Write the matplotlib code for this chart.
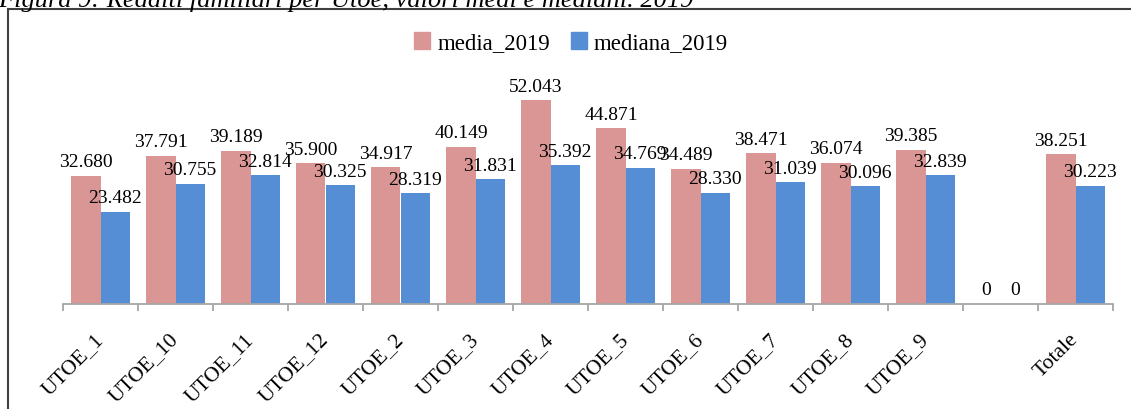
import matplotlib
matplotlib.use("Agg")
import matplotlib.pyplot as plt
from matplotlib.patches import Patch, Rectangle
import numpy as np

# redditi familiari per UTOE, 2019 (euro)
utoe = ["UTOE_1", "UTOE_10", "UTOE_11", "UTOE_12", "UTOE_2", "UTOE_3", "UTOE_4",
        "UTOE_5", "UTOE_6", "UTOE_7", "UTOE_8", "UTOE_9", "", "Totale"]
media_2019 = [32680, 37791, 39189, 35900, 34917, 40149, 52043,
              44871, 34489, 38471, 36074, 39385, 0, 38251]
mediana_2019 = [23482, 30755, 32814, 30325, 28319, 31831, 35392,
                34769, 28330, 31039, 30096, 32839, 0, 30223]

PINK = "#D99694"
BLUE = "#558ED5"
AXCOL = "#A6A6A6"

plt.rcParams["font.family"] = ["Liberation Serif", "DejaVu Serif"]


def fmt_it(v):
    # separatore delle migliaia all'italiana
    return "{:,.0f}".format(v).replace(",", ".")


fig = plt.figure(figsize=(11.31, 4.10), dpi=100)
ax = fig.add_axes([63 / 1131, 105 / 410, 1050 / 1131, 235 / 410])

x = np.arange(len(utoe))
w = 0.387
b1 = ax.bar(x - w / 2, media_2019, w, color=PINK, label="media_2019")
b2 = ax.bar(x + w / 2, mediana_2019, w, color=BLUE, label="mediana_2019")
for bars, vals in ((b1, media_2019), (b2, mediana_2019)):
    ax.bar_label(bars, labels=[fmt_it(v) for v in vals], padding=4, fontsize=14)

ax.set_xlim(-0.5, len(utoe) - 0.5)
ax.set_ylim(0, 60000)
ax.set_yticks([])
for s in ("top", "right", "left"):
    ax.spines[s].set_visible(False)
ax.spines["bottom"].set_color(AXCOL)
ax.spines["bottom"].set_linewidth(1.3)

ax.set_xticks(x)
ax.set_xticklabels(utoe, rotation=45, ha="right", va="center",
                   rotation_mode="anchor", fontsize=15.5)
ax.tick_params(axis="x", which="major", length=0, pad=23)
ax.set_xticks(np.arange(len(utoe) + 1) - 0.5, minor=True)
ax.tick_params(axis="x", which="minor", length=5, width=1.3, color=AXCOL)

fig.legend(handles=[Patch(color=PINK, label="media_2019"),
                    Patch(color=BLUE, label="mediana_2019")],
           loc="center", bbox_to_anchor=(571 / 1131, 1 - 44 / 410), ncol=2,
           frameon=False, fontsize=16.5, handlelength=0.7, handleheight=0.7,
           handletextpad=0.3, columnspacing=0.9)

# cornice del grafico
fig.patches.append(Rectangle((8 / 1131, -0.1), 1.2, 1 - 10 / 410 + 0.1,
                             transform=fig.transFigure, fill=False,
                             edgecolor="#404040", linewidth=1.5))

fig.text(-0.002, 1 - 7 / 410, "Figura 9: Redditi familiari per Utoe, valori medi e mediani. 2019",
         fontsize=19, style="italic", va="baseline", ha="left")

fig.savefig("out.png", dpi=100)
